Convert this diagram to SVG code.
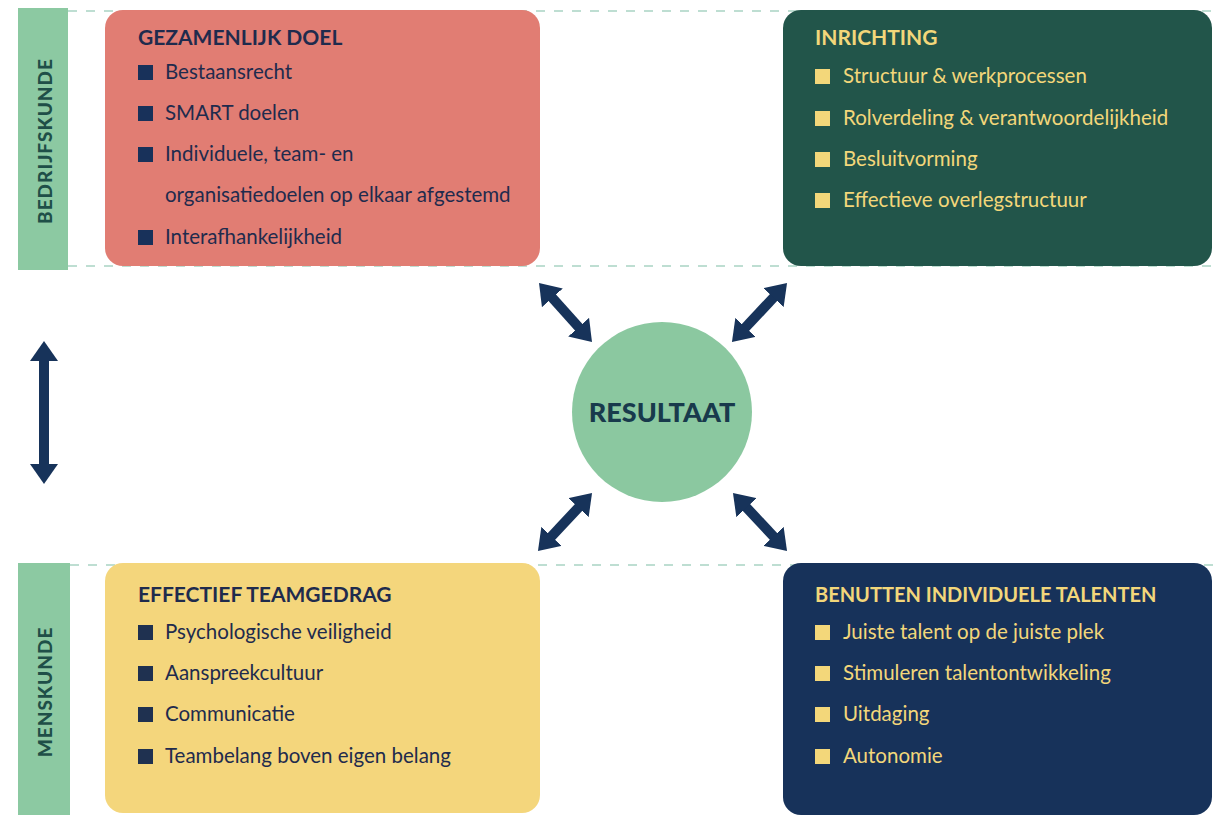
<svg xmlns="http://www.w3.org/2000/svg" width="1213" height="815" viewBox="0 0 1213 815">
<style>
.title{font-family:Lato,"Open Sans",sans-serif;font-weight:bold;font-size:21px}
.item{font-family:Lato,"Open Sans",sans-serif;font-size:20.5px}
.side{font-family:Lato,"Open Sans",sans-serif;font-weight:900;font-size:19px;fill:#1f4f48;letter-spacing:1px}
.dash{stroke:#a9d3c3;stroke-width:1.5;stroke-dasharray:9 9;fill:none}
.arr{stroke:#17335a;stroke-width:10;fill:none}
.dk{fill:#1f2b4d}
.lt{fill:#f3d77a}
</style>
<defs>
<marker id="ah" viewBox="0 0 8 10" refX="1" refY="5" markerWidth="2" markerHeight="2.8" orient="auto-start-reverse" markerUnits="strokeWidth" preserveAspectRatio="none">
<path d="M0,0 L8,5 L0,10 z" fill="#17335a"/>
</marker>
</defs>
<rect width="1213" height="815" fill="#ffffff"/>
<g id="bands">
<line class="dash" x1="68" y1="11" x2="1213" y2="11"/>
<line class="dash" x1="68" y1="266" x2="1213" y2="266"/>
<line class="dash" x1="70" y1="565" x2="1213" y2="565"/>
<rect x="18" y="8" width="50" height="262" fill="#8cc9a2"/>
<rect x="18" y="563" width="52" height="252" fill="#8cc9a2"/>
<text class="side" transform="translate(52,141) rotate(-90)" text-anchor="middle">BEDRIJFSKUNDE</text>
<text class="side" transform="translate(52,692) rotate(-90)" text-anchor="middle">MENSKUNDE</text>
</g>
<g id="doel">
<rect x="105" y="10" width="435" height="256" rx="18" fill="#e17d73"/>
<text class="title dk" x="138" y="45">GEZAMENLIJK DOEL</text>
<rect x="138" y="65" width="15" height="15" fill="#18315a"/>
<text class="item dk" x="165" y="79">Bestaansrecht</text>
<rect x="138" y="106" width="15" height="15" fill="#18315a"/>
<text class="item dk" x="165" y="120">SMART doelen</text>
<rect x="138" y="147" width="15" height="15" fill="#18315a"/>
<text class="item dk" x="165" y="161">Individuele, team- en</text>
<text class="item dk" x="165" y="202">organisatiedoelen op elkaar afgestemd</text>
<rect x="138" y="230" width="15" height="15" fill="#18315a"/>
<text class="item dk" x="165" y="244">Interafhankelijkheid</text>
</g>
<g id="inrichting">
<rect x="783" y="10" width="429" height="256" rx="18" fill="#22554a"/>
<text class="title lt" x="815" y="45">INRICHTING</text>
<rect x="815" y="69" width="15" height="15" fill="#f3d77a"/>
<text class="item lt" x="843" y="83">Structuur &amp; werkprocessen</text>
<rect x="815" y="111" width="15" height="15" fill="#f3d77a"/>
<text class="item lt" x="843" y="125">Rolverdeling &amp; verantwoordelijkheid</text>
<rect x="815" y="152" width="15" height="15" fill="#f3d77a"/>
<text class="item lt" x="843" y="166">Besluitvorming</text>
<rect x="815" y="193" width="15" height="15" fill="#f3d77a"/>
<text class="item lt" x="843" y="207">Effectieve overlegstructuur</text>
</g>
<g id="teamgedrag">
<rect x="105" y="563" width="435" height="250" rx="18" fill="#f4d67c"/>
<text class="title dk" x="138" y="602">EFFECTIEF TEAMGEDRAG</text>
<rect x="138" y="625" width="15" height="15" fill="#1f3150"/>
<text class="item dk" x="165" y="639">Psychologische veiligheid</text>
<rect x="138" y="666" width="15" height="15" fill="#1f3150"/>
<text class="item dk" x="165" y="680">Aanspreekcultuur</text>
<rect x="138" y="707" width="15" height="15" fill="#1f3150"/>
<text class="item dk" x="165" y="721">Communicatie</text>
<rect x="138" y="749" width="15" height="15" fill="#1f3150"/>
<text class="item dk" x="165" y="763">Teambelang boven eigen belang</text>
</g>
<g id="talenten">
<rect x="783" y="563" width="429" height="252" rx="18" fill="#17325a"/>
<text class="title lt" x="815" y="602" style="font-size:20px">BENUTTEN INDIVIDUELE TALENTEN</text>
<rect x="815" y="625" width="15" height="15" fill="#f3d77a"/>
<text class="item lt" x="843" y="639">Juiste talent op de juiste plek</text>
<rect x="815" y="666" width="15" height="15" fill="#f3d77a"/>
<text class="item lt" x="843" y="680">Stimuleren talentontwikkeling</text>
<rect x="815" y="707" width="15" height="15" fill="#f3d77a"/>
<text class="item lt" x="843" y="721">Uitdaging</text>
<rect x="815" y="749" width="15" height="15" fill="#f3d77a"/>
<text class="item lt" x="843" y="763">Autonomie</text>
</g>
<g id="resultaat">
<circle cx="662" cy="412" r="90" fill="#8bc8a0"/>
<text x="662" y="422" text-anchor="middle" font-family="Lato,'Open Sans',sans-serif" font-weight="900" font-size="27" fill="#183a4c">RESULTAAT</text>
</g>
<g id="connectors">
<line class="arr" x1="550.7" y1="296" x2="580.3" y2="329" marker-start="url(#ah)" marker-end="url(#ah)"/>
<line class="arr" x1="775.1" y1="295.8" x2="743.9" y2="329.2" marker-start="url(#ah)" marker-end="url(#ah)"/>
<line class="arr" x1="580.1" y1="505.8" x2="549.9" y2="538.2" marker-start="url(#ah)" marker-end="url(#ah)"/>
<line class="arr" x1="744.9" y1="505.8" x2="775.1" y2="538.2" marker-start="url(#ah)" marker-end="url(#ah)"/>
<line class="arr" x1="44" y1="358.5" x2="44" y2="466.5" marker-start="url(#ah)" marker-end="url(#ah)"/>
</g>
</svg>
